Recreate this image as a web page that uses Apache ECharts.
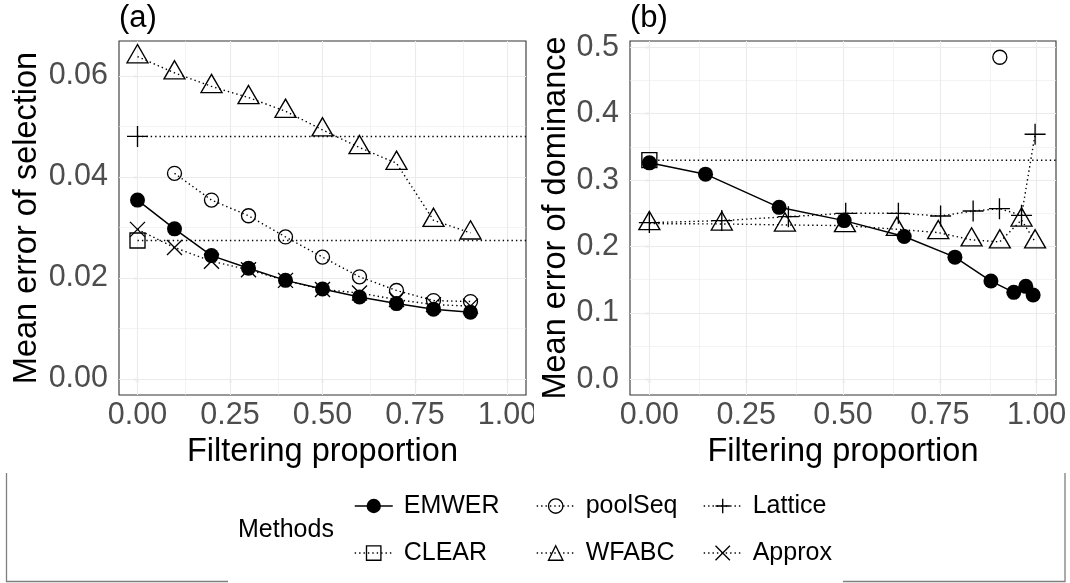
<!DOCTYPE html>
<html>
<head>
<meta charset="utf-8">
<script src="https://cdn.jsdelivr.net/npm/echarts@6/dist/echarts.min.js"></script>
<style>
  html, body { margin: 0; padding: 0; background: #ffffff; }
  #chart { width: 1070px; height: 583px; }
</style>
</head>
<body>
<div id="chart"></div>
<script>
// ---- Panel (a): mean error of selection vs filtering proportion ----
const selX        = [0, 0.1, 0.2, 0.3, 0.4, 0.5, 0.6, 0.7, 0.8, 0.9];
const selEMWER    = [0.0354, 0.0297, 0.0244, 0.0219, 0.0195, 0.0178, 0.0162, 0.0149, 0.0138, 0.0132];
const selWFABC    = [0.0638, 0.0606, 0.0579, 0.0557, 0.0530, 0.0493, 0.0458, 0.0427, 0.0314, 0.0289];
const selApprox   = [0.0296, 0.0260, 0.0233, 0.0216, 0.0195, 0.0177, 0.0170, 0.0157, 0.0147, 0.0144];
const selPoolSeqX = [0.1, 0.2, 0.3, 0.4, 0.5, 0.6, 0.7, 0.8, 0.9];
const selPoolSeq  = [0.0407, 0.0354, 0.0323, 0.0281, 0.0241, 0.0202, 0.0175, 0.0155, 0.0153];
const selLattice  = 0.0480;   // no filtering: one value
const selCLEAR    = 0.0274;   // no filtering: one value

// ---- Panel (b): mean error of dominance vs filtering proportion ----
const domEMWERX   = [0, 0.145, 0.335, 0.503, 0.658, 0.789, 0.882, 0.941, 0.972, 0.991];
const domEMWER    = [0.326, 0.309, 0.259, 0.239, 0.215, 0.184, 0.148, 0.131, 0.140, 0.127];
const domLatticeX = [0, 0.187, 0.359, 0.507, 0.643, 0.752, 0.836, 0.904, 0.961, 0.996];
const domLattice  = [0.236, 0.239, 0.245, 0.250, 0.250, 0.246, 0.2535, 0.257, 0.247, 0.369];
const domWFABCX   = [0, 0.187, 0.350, 0.505, 0.639, 0.746, 0.832, 0.905, 0.961, 0.996];
const domWFABC    = [0.2345, 0.234, 0.2325, 0.2315, 0.226, 0.221, 0.210, 0.207, 0.240, 0.207];
const domPoolSeqX = [0.905];
const domPoolSeq  = [0.485];
const domCLEAR    = 0.330;    // no filtering: one value

// ---- Tick labels ----
const xTicks   = [0, 0.25, 0.5, 0.75, 1];
const selTicks = [0, 0.02, 0.04, 0.06];
const domTicks = [0, 0.1, 0.2, 0.3, 0.4, 0.5];

const methods = ['EMWER', 'poolSeq', 'Lattice', 'CLEAR', 'WFABC', 'Approx'];

const FONT = '"Liberation Sans", Arial, Helvetica, sans-serif';
const X_MIN = -0.05, X_MAX = 1.05;
const SEL_MIN = -0.0032, SEL_MAX = 0.0669;
const DOM_MIN = -0.0236, DOM_MAX = 0.5095;

const SYM = {
  circle:   'path://M20,10A10,10 0 1 1 0,10A10,10 0 1 1 20,10Z',
  square:   'path://M0,0L20,0L20,20L0,20Z',
  triangle: 'path://M10,0L20,17.32L0,17.32Z',
  plus:     'path://M0,10L20,10M10,0L10,20',
  cross:    'path://M0,0L20,20M20,0L0,20'
};

const DOTTED = { color: '#000', width: 1.4, type: [1.4, 3.0], cap: 'butt' };
const SOLID  = { color: '#000', width: 1.5, type: 'solid' };
const STROKE = 1.35;

const LOOK = {
  EMWER:   { symbol: 'circle',     size: 15, line: SOLID,  filled: true },
  poolSeq: { symbol: SYM.circle,   size: 14, line: DOTTED },
  Lattice: { symbol: SYM.plus,     size: 21, line: DOTTED },
  CLEAR:   { symbol: SYM.square,   size: 15, line: DOTTED },
  WFABC:   { symbol: SYM.triangle, size: [21, 18.2], offset: [0, -3], line: DOTTED },
  Approx:  { symbol: SYM.cross,    size: 15, line: DOTTED }
};

function zip(xs, ys) { return xs.map((x, i) => [x, ys[i]]); }

function methodSeries(name, data, axisIndex) {
  const lk = LOOK[name];
  return {
    type: 'line', name: name,
    xAxisIndex: axisIndex, yAxisIndex: axisIndex,
    data: data,
    symbol: lk.symbol, symbolSize: lk.size,
    symbolOffset: lk.offset || [0, 0],
    showSymbol: true,
    lineStyle: lk.line,
    itemStyle: lk.filled
      ? { color: '#000', borderWidth: 0 }
      : { color: 'none', borderColor: '#000', borderWidth: STROKE },
    emphasis: { disabled: true },
    z: name === 'EMWER' ? 4 : 3,
    animation: false
  };
}

// horizontal reference for methods that have a single value
function flatSeries(name, value, axisIndex) {
  return methodSeries(name, [[0, value], { value: [X_MAX, value], symbol: 'none' }], axisIndex);
}

function midpoints(t) { return t.slice(1).map((v, i) => (v + t[i]) / 2); }

// panel background grid (minor then major lines), kept beneath the data
function gridLines(axisIndex, yTicks) {
  const major = { color: '#EBEBEB', width: 1.1, type: 'solid' };
  const minor = { color: '#EBEBEB', width: 0.6, type: 'solid' };
  const data = [];
  midpoints(xTicks).forEach(v => data.push({ xAxis: v, lineStyle: minor }));
  midpoints(yTicks).forEach(v => data.push({ yAxis: v, lineStyle: minor }));
  xTicks.forEach(v => data.push({ xAxis: v, lineStyle: major }));
  yTicks.forEach(v => data.push({ yAxis: v, lineStyle: major }));
  return {
    type: 'line', name: 'grid' + axisIndex,
    xAxisIndex: axisIndex, yAxisIndex: axisIndex,
    data: [], z: 1, silent: true, animation: false,
    markLine: {
      z: 1, silent: true, symbol: ['none', 'none'], label: { show: false },
      emphasis: { disabled: true }, animation: false, data: data
    }
  };
}

function xAxis(gridIndex) {
  return {
    gridIndex: gridIndex, type: 'value', min: X_MIN, max: X_MAX,
    axisLine: { show: false },
    axisTick: { show: true, customValues: xTicks, length: 4, lineStyle: { color: '#333', width: 1.1 } },
    axisLabel: { customValues: xTicks, formatter: v => v.toFixed(2), color: '#4D4D4D',
                 fontSize: 30.5, fontFamily: FONT, margin: 5 },
    splitLine: { show: false },
    name: 'Filtering proportion', nameLocation: 'middle', nameGap: 26,
    nameTextStyle: { fontSize: 32.5, color: '#000', fontFamily: FONT }
  };
}

function yAxis(gridIndex, min, max, ticks, digits, title, gap) {
  return {
    gridIndex: gridIndex, type: 'value', min: min, max: max,
    axisLine: { show: false },
    axisTick: { show: true, customValues: ticks, length: 4, lineStyle: { color: '#333', width: 1.1 } },
    axisLabel: { customValues: ticks, formatter: v => v.toFixed(digits), color: '#4D4D4D',
                 fontSize: 30.5, fontFamily: FONT, margin: 11 },
    splitLine: { show: false },
    name: title, nameLocation: 'middle', nameGap: gap,
    nameTextStyle: { fontSize: 32.5, color: '#000', fontFamily: FONT }
  };
}

// one legend block per method, laid out as a 2 x 3 table
const legendCols = [354, 536, 703];
const legendRows = [491, 538];
const legends = methods.map((m, i) => ({
  data: [m],
  left: legendCols[i % 3], top: legendRows[Math.floor(i / 3)],
  orient: 'horizontal', padding: 0,
  itemWidth: 38, itemHeight: 18,
  itemStyle: { borderWidth: STROKE },
  lineStyle: { width: LOOK[m].line.width },
  textStyle: { fontSize: 25, color: '#000', fontFamily: FONT, lineHeight: 30, padding: [0, 0, 0, 6] }
}));

const series = [
  gridLines(0, selTicks),
  gridLines(1, domTicks),
  flatSeries('Lattice', selLattice, 0),
  flatSeries('CLEAR', selCLEAR, 0),
  methodSeries('WFABC', zip(selX, selWFABC), 0),
  methodSeries('poolSeq', zip(selPoolSeqX, selPoolSeq), 0),
  methodSeries('Approx', zip(selX, selApprox), 0),
  methodSeries('EMWER', zip(selX, selEMWER), 0),
  flatSeries('CLEAR', domCLEAR, 1),
  methodSeries('Lattice', zip(domLatticeX, domLattice), 1),
  methodSeries('WFABC', zip(domWFABCX, domWFABC), 1),
  methodSeries('poolSeq', zip(domPoolSeqX, domPoolSeq), 1),
  methodSeries('EMWER', zip(domEMWERX, domEMWER), 1)
];

const chart = echarts.init(document.getElementById('chart'), null, { renderer: 'canvas' });
chart.setOption({
  backgroundColor: '#ffffff',
  animation: false,
  title: [
    { text: '(a)', left: 119, top: 3, padding: 0,
      textStyle: { fontSize: 31, fontWeight: 'normal', color: '#000', fontFamily: FONT } },
    { text: '(b)', left: 630, top: 3, padding: 0,
      textStyle: { fontSize: 31, fontWeight: 'normal', color: '#000', fontFamily: FONT } }
  ],
  grid: [
    { left: 119, top: 41, width: 407, height: 354, show: true, borderColor: '#333', borderWidth: 1.1, backgroundColor: 'transparent' },
    { left: 630, top: 41, width: 426, height: 354, show: true, borderColor: '#333', borderWidth: 1.1, backgroundColor: 'transparent' }
  ],
  xAxis: [xAxis(0), xAxis(1)],
  yAxis: [
    yAxis(0, SEL_MIN, SEL_MAX, selTicks, 2, 'Mean error of selection', 75),
    yAxis(1, DOM_MIN, DOM_MAX, domTicks, 1, 'Mean error of dominance', 56)
  ],
  legend: legends,
  graphic: [
    { type: 'text', x: 238, y: 530, z: 10,
      style: { text: 'Methods', fontSize: 25, fontFamily: FONT, fill: '#000', align: 'left', verticalAlign: 'middle' } },
    { type: 'polyline', z: 10, shape: { points: [[6.5, 473], [6.5, 581.5], [228, 581.5]] },
      style: { stroke: '#7f7f7f', lineWidth: 1.3, fill: null } },
    { type: 'polyline', z: 10, shape: { points: [[843, 581.5], [1065, 581.5], [1065, 473]] },
      style: { stroke: '#7f7f7f', lineWidth: 1.3, fill: null } },
    { type: 'rect', z: 100, shape: { x: 534, y: 397, width: 10, height: 40 }, style: { fill: '#ffffff' } }
  ],
  series: series
});
</script>
</body>
</html>
